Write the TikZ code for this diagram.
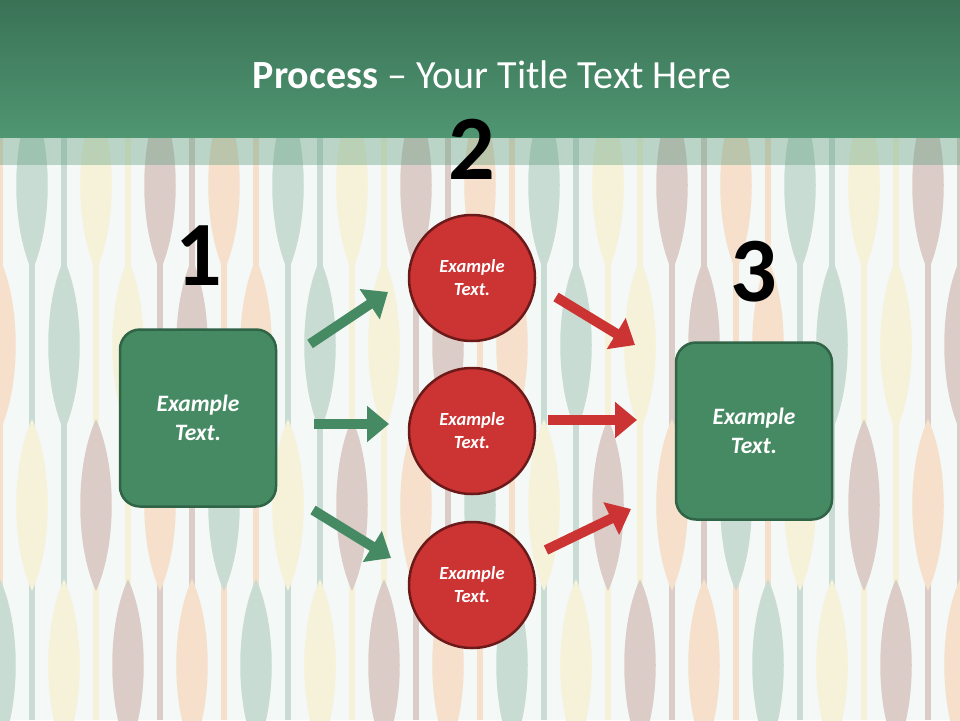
\documentclass[tikz,border=0pt]{standalone}
\usepackage{fontspec}
\setmainfont{Carlito}
\usetikzlibrary{arrows.meta}

\definecolor{hdtop}{HTML}{3A7256}
\definecolor{hdbot}{HTML}{4F9672}
\definecolor{boxgreen}{HTML}{468A64}
\definecolor{boxedge}{HTML}{2F6447}
\definecolor{ballred}{HTML}{CC3333}
\definecolor{balledge}{HTML}{6B1A1A}
\definecolor{bgpale}{HTML}{F4F8F6}
\definecolor{c0}{HTML}{DCCCC8}
\definecolor{c1}{HTML}{F6DFCB}
\definecolor{c2}{HTML}{C9DCD3}
\definecolor{c3}{HTML}{F6F2DA}

\begin{document}
\begin{tikzpicture}[x=1pt, y=-1pt,
  stepbox/.style={draw=boxedge, line width=2.5pt, fill=boxgreen, rounded corners=20pt,
    minimum width=156pt, minimum height=177pt, text=white, align=center,
    font=\bfseries\itshape\fontsize{23.5}{29}\selectfont},
  ball/.style={circle, draw=balledge, line width=2.5pt, fill=ballred, minimum size=126pt,
    text=white, align=center, font=\bfseries\itshape\fontsize{18.5}{23}\selectfont},
  num/.style={font=\bfseries\fontsize{92}{92}\selectfont},
  garrow/.style={draw=boxgreen, line width=10pt, -{Triangle[length=22pt, width=35pt]}},
  rarrow/.style={garrow, draw=ballred}
]
\useasboundingbox (0,0) rectangle (960,720);
\fill[bgpale] (0,0) rectangle (960,720);
\foreach \i in {0,...,30} {
  \pgfmathsetmacro\off{mod(\i,2)==1 ? 185 : 345}
  \pgfmathtruncatemacro\s{mod(\i*\i+int(\i/2)+1,4)}
  \draw[c\s, line width=6pt] (32*\i,0) -- (32*\i,720);
  \foreach \j in {0,...,3} {
    \pgfmathtruncatemacro\k{mod(\i*\i+int(\i/2)+\j,4)}
    \pgfmathsetmacro\c{\off+320*\j-320}
    \fill[c\k] (32*\i,\c-86) .. controls (32*\i+21,\c-40) and (32*\i+21,\c+40) .. (32*\i,\c+86)
      .. controls (32*\i-21,\c+40) and (32*\i-21,\c-40) .. cycle;
  }
}
\shade[top color=hdtop, bottom color=hdbot] (0,0) rectangle (960,137);
\fill[hdbot, opacity=0.35] (0,137) rectangle (960,165);
\node[text=white, font=\fontsize{40}{40}\selectfont] (title) at (492,75)
  {\textbf{Process} -- Your Title Text Here};

\node[stepbox] (first) at (198,418) {Example\\Text.};
\node[stepbox] (last) at (754,431) {Example\\Text.};
\node[ball] (up) at (472,278) {Example\\Text.};
\node[ball] (mid) at (472,431) {Example\\Text.};
\node[ball] (down) at (472,585) {Example\\Text.};
\node[num] (n1) at (199,256) {1};
\node[num] (n2) at (472,149) {2};
\node[num] (n3) at (754,272) {3};

\coordinate (g1a) at (310,344); \coordinate (g1b) at (388,292);
\coordinate (g2a) at (314,424); \coordinate (g2b) at (389,424);
\coordinate (g3a) at (313,510); \coordinate (g3b) at (391,558);
\coordinate (r1a) at (556,297); \coordinate (r1b) at (635,345);
\coordinate (r2a) at (548,420); \coordinate (r2b) at (637,420);
\coordinate (r3a) at (546,550); \coordinate (r3b) at (631,509);
\draw[garrow] (g1a) -- (g1b);
\draw[garrow] (g2a) -- (g2b);
\draw[garrow] (g3a) -- (g3b);
\draw[rarrow] (r1a) -- (r1b);
\draw[rarrow] (r2a) -- (r2b);
\draw[rarrow] (r3a) -- (r3b);
\end{tikzpicture}
\end{document}
